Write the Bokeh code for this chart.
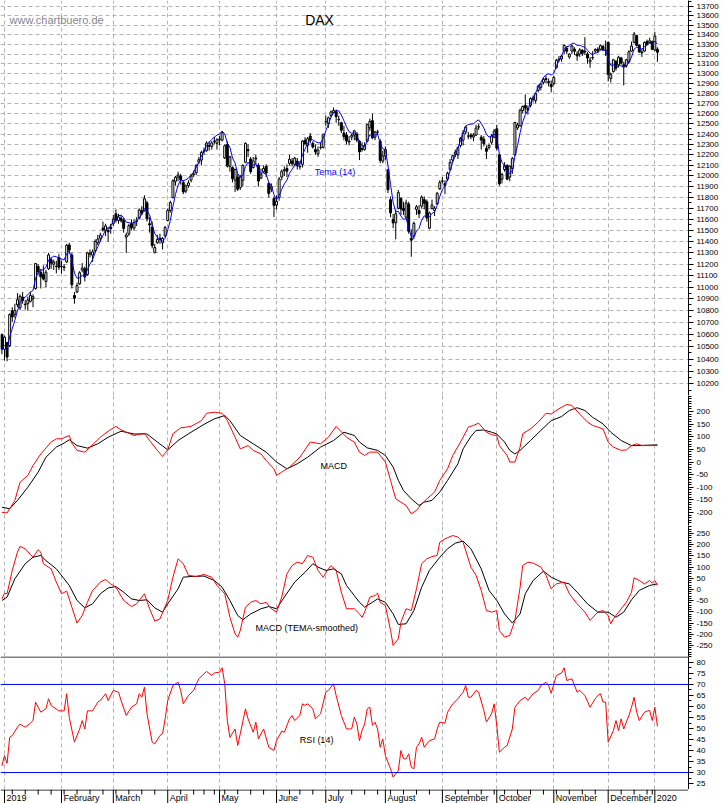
import numpy as np
import pandas as pd
from bokeh.plotting import figure
from bokeh.layouts import column
from bokeh.models import Range1d, FixedTicker, PrintfTickFormatter, Label, Span, ColumnDataSource
from bokeh.core.properties import value
from bokeh.embed import file_html
from bokeh.resources import INLINE

FONT = "Liberation Sans"

# ---------------- calendar ----------------
holidays = ["2018-12-31", "2019-01-01", "2019-04-19", "2019-04-22", "2019-05-01",
            "2019-06-10", "2019-10-03", "2019-12-24", "2019-12-25", "2019-12-26",
            "2019-12-31", "2020-01-01"]
trade_dates = pd.bdate_range("2018-12-28", "2020-01-03")
trade_dates = trade_dates[~trade_dates.isin(pd.to_datetime(holidays))]
day = list(range(-1, len(trade_dates) - 1))

month_names = ["2019", "February", "March", "April", "May", "June", "July",
               "August", "September", "October", "November", "December", "2020"]

# ---------------- DAX daily OHLC ----------------
opens = [
    10600, 10480, 10536, 10510, 10800, 10770, 10850, 10825, 10915, 10850,
    10860, 10880, 10900, 10990, 11180, 11130, 11110, 11050, 11160, 11240,
    11200, 11180, 11260, 11180, 11170, 11220, 11370, 11280, 10930, 10960,
    11030, 11150, 11160, 11110, 11290, 11280, 11320, 11390, 11430, 11520,
    11500, 11500, 11530, 11560, 11650, 11590, 11610, 11590, 11440, 11470,
    11560, 11520, 11580, 11610, 11680, 11680, 11750, 11560, 11530, 11300,
    11390, 11430, 11390, 11450, 11590, 11680, 11800, 11950, 11990, 12000,
    11940, 11860, 11910, 11960, 12010, 12030, 12130, 12150, 12230, 12240,
    12290, 12280, 12330, 12310, 12350, 12340, 12170, 12300, 12090, 12080,
    11960, 11990, 11890, 11960, 12130, 12250, 12160, 12080, 12160, 12100,
    11980, 12040, 12090, 11930, 11880, 11790, 11730, 11800, 11990, 12050,
    12070, 12120, 12140, 12110, 12140, 12090, 12110, 12340, 12290, 12380,
    12310, 12250, 12210, 12270, 12270, 12520, 12500, 12580, 12610, 12620,
    12540, 12510, 12410, 12390, 12330, 12370, 12390, 12400, 12330, 12250,
    12250, 12330, 12460, 12530, 12370, 12420, 12330, 12140, 12190, 12060,
    11780, 11600, 11570, 11700, 11790, 11700, 11620, 11740, 11430, 11450,
    11690, 11680, 11720, 11780, 11760, 11520, 11700, 11680, 11740, 11880,
    11950, 11930, 11970, 12060, 12150, 12200, 12200, 12290, 12340, 12420,
    12380, 12390, 12370, 12390, 12470, 12370, 12350, 12260, 12270, 12320,
    12370, 12450, 12200, 11970, 12060, 12100, 11990, 12070, 12200, 12460,
    12480, 12630, 12680, 12650, 12680, 12740, 12730, 12830, 12860, 12910,
    12950, 12920, 12890, 12900, 13060, 13140, 13150, 13230, 13260, 13170,
    13230, 13250, 13200, 13200, 13240, 13230, 13200, 13120, 13160, 13230,
    13250, 13250, 13280, 13240, 13320, 12950, 13020, 13120, 13090, 13160,
    13090, 13080, 13120, 13230, 13320, 13390, 13290, 13220, 13230, 13330,
    13320, 13330, 13240, 13250]
highs = [
    10610, 10593, 10540, 10779, 10830, 10860, 10950, 10940, 10960, 10890,
    10920, 10960, 10940, 11210, 11200, 11160, 11190, 11150, 11300, 11260,
    11240, 11230, 11290, 11230, 11200, 11380, 11390, 11300, 10960, 11040,
    11140, 11210, 11180, 11310, 11330, 11330, 11420, 11460, 11480, 11580,
    11560, 11530, 11560, 11640, 11690, 11650, 11640, 11610, 11480, 11560,
    11600, 11600, 11620, 11700, 11720, 11820, 11770, 11620, 11580, 11380,
    11460, 11470, 11440, 11540, 11700, 11770, 11970, 12000, 12040, 12020,
    11960, 11920, 11960, 12020, 12050, 12110, 12180, 12240, 12270, 12330,
    12330, 12330, 12370, 12360, 12380, 12430, 12300, 12330, 12190, 12090,
    12070, 12020, 12010, 12110, 12320, 12300, 12180, 12180, 12200, 12120,
    12070, 12100, 12110, 11940, 11930, 11810, 11820, 11990, 12060, 12090,
    12110, 12200, 12170, 12180, 12170, 12140, 12340, 12370, 12370, 12410,
    12330, 12300, 12280, 12320, 12400, 12580, 12570, 12630, 12660, 12640,
    12580, 12520, 12480, 12420, 12380, 12400, 12440, 12420, 12340, 12320,
    12320, 12500, 12550, 12600, 12430, 12440, 12350, 12240, 12280, 12060,
    11810, 11650, 11690, 11870, 11800, 11760, 11780, 11760, 11510, 11580,
    11730, 11730, 11820, 11810, 11780, 11670, 11780, 11720, 11850, 11960,
    11990, 11960, 12040, 12160, 12200, 12250, 12280, 12370, 12440, 12480,
    12420, 12410, 12410, 12490, 12500, 12390, 12380, 12290, 12310, 12400,
    12450, 12490, 12210, 12030, 12130, 12110, 12100, 12180, 12520, 12510,
    12650, 12680, 12790, 12680, 12760, 12780, 12810, 12890, 12900, 12960,
    12980, 12950, 12930, 12980, 13150, 13180, 13190, 13300, 13280, 13210,
    13300, 13270, 13230, 13260, 13250, 13375, 13220, 13170, 13230, 13260,
    13270, 13300, 13290, 13340, 13330, 13010, 13150, 13140, 13180, 13170,
    13120, 13150, 13240, 13330, 13430, 13400, 13300, 13250, 13330, 13350,
    13370, 13340, 13430, 13270]
lows = [
    10440, 10387, 10382, 10500, 10706, 10740, 10830, 10805, 10860, 10810,
    10800, 10870, 10830, 10980, 11110, 10990, 11060, 11000, 11150, 11160,
    11150, 11120, 11150, 11120, 11140, 11210, 11290, 10990, 10860, 10950,
    11020, 11130, 11050, 11100, 11260, 11220, 11300, 11370, 11400, 11490,
    11450, 11400, 11470, 11540, 11570, 11560, 11570, 11480, 11300, 11450,
    11500, 11500, 11540, 11600, 11640, 11670, 11580, 11480, 11340, 11300,
    11380, 11380, 11330, 11440, 11580, 11660, 11790, 11910, 11950, 11920,
    11830, 11840, 11890, 11940, 11990, 12010, 12110, 12100, 12200, 12230,
    12240, 12250, 12300, 12250, 12290, 12330, 12160, 12080, 12040, 11940,
    11850, 11860, 11870, 11900, 12120, 12180, 12020, 12070, 12110, 11900,
    11970, 12030, 11990, 11800, 11850, 11620, 11690, 11770, 11960, 12000,
    11990, 12100, 12090, 12090, 12060, 12060, 12080, 12290, 12220, 12310,
    12260, 12200, 12180, 12250, 12260, 12480, 12460, 12560, 12600, 12510,
    12480, 12410, 12340, 12300, 12290, 12340, 12340, 12320, 12150, 12230,
    12240, 12320, 12430, 12350, 12340, 12390, 12120, 12120, 12150, 11840,
    11620, 11520, 11420, 11690, 11640, 11640, 11600, 11470, 11266, 11420,
    11640, 11610, 11700, 11690, 11580, 11510, 11690, 11630, 11730, 11870,
    11930, 11830, 11950, 12050, 12130, 12180, 12160, 12270, 12290, 12400,
    12350, 12350, 12330, 12380, 12440, 12250, 12280, 12160, 12250, 12300,
    12360, 12240, 11910, 11930, 12040, 11960, 11950, 12020, 12190, 12440,
    12470, 12600, 12600, 12590, 12660, 12710, 12700, 12810, 12830, 12890,
    12900, 12870, 12810, 12880, 13050, 13120, 13120, 13200, 13200, 13150,
    13200, 13190, 13130, 13170, 13180, 13190, 13100, 13060, 13140, 13210,
    13210, 13240, 13230, 13180, 12920, 12910, 13010, 13030, 13060, 13090,
    12880, 13060, 13100, 13220, 13310, 13280, 13210, 13170, 13220, 13290,
    13310, 13240, 13230, 13120]
closes = [
    10480, 10580, 10417, 10768, 10748, 10804, 10893, 10922, 10887, 10856,
    10892, 10931, 10919, 11206, 11136, 11090, 11072, 11130, 11282, 11210,
    11219, 11182, 11173, 11181, 11177, 11368, 11325, 11022, 10907, 11015,
    11126, 11167, 11090, 11300, 11299, 11309, 11402, 11423, 11458, 11505,
    11541, 11487, 11516, 11602, 11593, 11621, 11588, 11518, 11458, 11543,
    11524, 11572, 11587, 11686, 11657, 11788, 11604, 11550, 11364, 11347,
    11419, 11419, 11428, 11526, 11682, 11754, 11954, 11988, 12010, 11963,
    11851, 11906, 11935, 12000, 12020, 12101, 12153, 12222, 12236, 12313,
    12282, 12315, 12328, 12344, 12345, 12413, 12287, 12093, 12180, 11974,
    12060, 11877, 11992, 12100, 12310, 12239, 12041, 12143, 12169, 11952,
    12011, 12071, 12027, 11838, 11902, 11727, 11764, 11971, 12044, 12059,
    12045, 12158, 12116, 12169, 12096, 12086, 12332, 12309, 12355, 12340,
    12275, 12228, 12245, 12271, 12399, 12521, 12558, 12616, 12630, 12569,
    12544, 12437, 12373, 12332, 12323, 12387, 12431, 12341, 12228, 12260,
    12289, 12491, 12523, 12362, 12420, 12417, 12147, 12189, 12253, 11872,
    11659, 11568, 11650, 11845, 11694, 11680, 11750, 11493, 11413, 11563,
    11715, 11651, 11803, 11747, 11612, 11658, 11730, 11701, 11839, 11939,
    11954, 11911, 12025, 12127, 12192, 12226, 12269, 12359, 12410, 12469,
    12380, 12373, 12390, 12458, 12468, 12342, 12307, 12234, 12289, 12381,
    12428, 12264, 11925, 12013, 12097, 11970, 12094, 12164, 12512, 12487,
    12630, 12670, 12655, 12634, 12748, 12755, 12798, 12872, 12895, 12942,
    12940, 12910, 12867, 12961, 13136, 13149, 13180, 13289, 13229, 13198,
    13284, 13230, 13180, 13242, 13207, 13221, 13158, 13138, 13164, 13246,
    13233, 13287, 13246, 13236, 12990, 12989, 13141, 13055, 13167, 13106,
    13071, 13141, 13222, 13283, 13408, 13288, 13222, 13212, 13319, 13301,
    13337, 13249, 13386, 13219]

# ---------------- MACD ----------------
macd_x = [-1, 1, 4, 6, 9, 11, 14, 18, 20, 22, 25, 26, 28, 31, 33, 37, 40, 43, 45, 50,
          54, 56, 59, 61, 63, 65, 68, 72, 76, 78, 81, 84, 86, 89, 91, 94, 96, 99, 101, 104,
          105, 107, 110, 114, 118, 122, 125, 128, 132, 135, 137, 139, 141, 144, 147, 149, 151, 153, 155, 157,
          159, 161, 163, 166, 168, 171, 173, 176, 179, 181, 183, 186, 188, 190, 191, 194, 195, 197, 199, 200,
          203, 206, 209, 211, 214, 217, 219, 222, 225, 227, 231, 233, 235, 238, 240, 242, 244, 246, 249, 252]
macd_line = [-199, -202, -152, -80, -53, -14, 32, 79, 92, 92, 105, 75, 46, 39, 59, 98, 122, 141, 127, 105,
             114, 85, 46, 22, 48, 112, 135, 141, 164, 193, 197, 193, 164, 98, 52, 65, 46, 32, 6, -27,
             -53, -40, -20, 19, 79, 72, 98, 141, 98, 79, 39, 26, 39, 39, 0, -73, -146, -159, -172, -205,
             -192, -166, -146, -119, -73, -27, 26, 79, 138, 145, 154, 118, 108, 105, 65, 26, 0, 0, 59, 112,
             131, 158, 193, 190, 211, 228, 224, 190, 158, 145, 131, 79, 59, 46, 48, 65, 72, 65, 65, 65]
signal_x = [-1, 2, 5, 9, 13, 16, 20, 23, 25, 28, 32, 36, 40, 45, 50, 55, 59, 63, 67, 72,
            77, 81, 85, 87, 91, 96, 101, 105, 109, 113, 117, 122, 127, 131, 135, 137, 140, 144, 147, 150,
            152, 154, 157, 160, 162, 165, 168, 171, 175, 177, 180, 182, 185, 188, 190, 193, 195, 197, 199, 203,
            207, 211, 215, 218, 221, 224, 227, 231, 234, 238, 242, 244, 252]
signal_line = [-179, -185, -152, -100, -40, 19, 59, 75, 88, 65, 55, 72, 98, 122, 111, 111, 79, 48, 85, 118,
               149, 171, 184, 164, 105, 72, 39, 0, -27, -7, 19, 59, 85, 118, 105, 79, 56, 46, 26, -20,
               -73, -113, -146, -172, -159, -152, -119, -73, -7, 52, 101, 125, 127, 118, 111, 79, 46, 32, 46, 85,
               125, 164, 180, 204, 215, 204, 177, 151, 118, 85, 65, 65, 68]

# ---------------- MACD (TEMA-smoothed) ----------------
tmacd_x = [-1, 0, 1, 3, 5, 6, 8, 10, 11, 13, 14, 15, 18, 20, 22, 24, 26, 28, 30, 32,
           34, 37, 39, 41, 43, 46, 49, 51, 54, 56, 58, 60, 63, 65, 67, 69, 71, 74, 77, 80,
           82, 85, 87, 89, 90, 91, 93, 95, 97, 99, 101, 103, 105, 107, 109, 111, 113, 115, 117, 119,
           121, 123, 125, 126, 128, 130, 132, 135, 137, 138, 139, 141, 143, 144, 145, 147, 149, 150, 152, 153,
           155, 157, 159, 161, 163, 165, 167, 168, 170, 173, 175, 177, 180, 182, 184, 186, 188, 190, 191, 193,
           195, 197, 199, 200, 202, 204, 207, 209, 211, 213, 216, 218, 221, 224, 226, 229, 231, 233, 234, 235,
           237, 240, 242, 243, 245, 247, 249, 250, 251, 252]
tmacd_line = [-42, -16, -19, 85, 167, 192, 182, 156, 144, 177, 167, 115, 92, 33, -19, -7, -79, -150, -116, -57,
              -4, 33, 45, 25, 10, -49, -76, -64, -19, -86, -141, -131, -49, 55, 137, 115, 63, 58, 67, 55,
              18, -19, -124, -198, -213, -183, -79, -57, -49, -64, -57, -86, -101, -34, 70, 107, 122, 115, 152, 144,
              85, 55, 92, 107, 85, -12, -86, -86, -109, -124, -101, -34, -27, -16, -57, -71, -183, -250, -220, -146,
              -86, -94, 3, 115, 137, 147, 152, 211, 226, 241, 234, 211, 100, 63, -4, -94, -101, -94, -183, -213,
              -205, -138, 10, 107, 122, 118, 100, 63, 3, 25, 33, -19, -64, -101, -138, -101, -94, -116, -153, -131,
              -101, -57, -12, 52, 40, 25, 40, 28, 40, 18]
tsignal_x = [-1, 1, 4, 8, 11, 14, 16, 20, 23, 25, 28, 31, 34, 37, 40, 43, 46, 49, 52, 55,
             58, 61, 63, 67, 69, 72, 77, 81, 84, 87, 90, 92, 95, 99, 102, 105, 108, 112, 116, 119,
             121, 124, 127, 130, 132, 135, 137, 139, 142, 144, 147, 150, 152, 155, 158, 161, 164, 168, 171, 174,
             177, 180, 184, 187, 190, 193, 196, 199, 201, 204, 208, 211, 215, 218, 221, 225, 229, 233, 236, 239,
             242, 245, 249, 252]
tsignal_line = [-49, -34, 48, 115, 144, 152, 129, 92, 48, 18, -49, -82, -64, -19, 7, 13, -12, -42, -49, -46,
                -82, -101, -64, 3, 55, 58, 60, 40, 10, -49, -116, -135, -109, -86, -76, -86, -34, 33, 77, 115,
                100, 85, 92, 70, 18, -27, -57, -79, -57, -42, -57, -109, -156, -153, -94, 10, 85, 144, 182, 207,
                216, 182, 92, -4, -49, -109, -150, -109, -19, 40, 82, 55, 33, 25, -12, -64, -101, -101, -124, -101,
                -46, -4, 18, 25]

# ---------------- RSI (14) ----------------
rsi_x = [-1, 0, 1, 2, 3, 5, 6, 8, 10, 11, 12, 14, 16, 17, 18, 21, 23, 24, 25, 27,
         29, 30, 31, 32, 34, 36, 37, 39, 40, 42, 44, 45, 47, 49, 51, 52, 53, 54, 55, 57,
         58, 60, 61, 62, 63, 65, 67, 68, 69, 71, 73, 75, 77, 78, 80, 81, 83, 84, 85, 86,
         87, 89, 90, 91, 93, 94, 96, 97, 98, 100, 102, 104, 105, 107, 108, 110, 111, 112, 114, 115,
         116, 117, 119, 120, 122, 124, 125, 127, 128, 130, 132, 134, 135, 136, 137,
         138, 139, 140, 141, 142, 143, 144, 145, 146, 147, 149, 150, 152, 153, 154, 155, 156, 157, 158, 159,
         160, 161, 162, 164, 166, 167, 168, 170, 171, 173, 175, 177, 178, 179, 180, 182, 183, 185, 186, 188,
         189, 190, 191, 193, 194, 196, 197, 199, 201, 202, 204, 206, 207, 209, 210, 211, 213, 215, 216, 217,
         219, 221, 222, 224, 226, 228, 229, 230, 231, 232, 233, 235, 236, 237, 238, 239, 241, 242, 243, 244,
         245, 247, 248, 249, 250, 251, 252]
rsi = [33, 37.7, 34.2, 46, 46.8, 50.6, 52, 50.6, 52.4, 53.6, 62, 57.4, 59, 63.5, 60.5, 58, 58, 65.8, 55, 43.8,
       49.8, 53.6, 49.8, 58, 58, 62, 62.7, 65.8, 62.7, 67.3, 66.5, 62.7, 55.9, 59.7, 61.2, 65.8, 64.2, 68.8, 56.7, 43.8,
       43, 46.8, 47.6, 54.4, 62.7, 69.5, 71, 67.3, 61.2, 65, 67.3, 72.6, 74.8, 75.9, 74.1, 75.2, 75.6, 77.6, 70.3, 53.6,
       46, 49.8, 42.3, 47.6, 58.9, 54.4, 48.3, 52.9, 45.3, 49.8, 41.5, 40, 44.5, 48.8, 48.3, 54.4, 55.9, 53.6, 55.9, 61.2,
       60.5, 61.2, 58.9, 54.4, 56.7, 66.5, 67.3, 70.3, 65, 55.9, 49.8, 49.8, 55.2, 52.1, 44.5,
       49.1, 52.1, 58.9, 59.7, 51.4, 52.9, 49.8, 41.5, 45.3, 37.7, 31.7, 27.9, 30.9, 40, 36.2, 36.2, 38.5, 32.4, 31.7, 41.5,
       43, 46, 41.5, 44.5, 45.3, 49.8, 52.9, 52.4, 57.4, 61.2, 63.5, 66.5, 69.5, 64.2, 64.2, 67.3, 66.5, 58.2, 52.9, 56.7,
       61.2, 51.4, 39.2, 41.5, 42.3, 49.8, 59.7, 62.7, 64.2, 62.7, 65.8, 67.3, 69.5, 71, 69.5, 66, 74.1, 75.2, 77.6, 71.8,
       72.6, 66.5, 67.3, 65, 59.7, 63.5, 65, 65.8, 62, 62, 43.8, 49.1, 53.6, 49.1, 54.4, 49.8, 55.9, 59.7, 64.2, 57.4,
       53.6, 57.4, 57.9, 58.2, 53.6, 59.7, 51]

# ---------------- derived ticks ----------------
month_start, week_start = [], []
for k in range(1, len(trade_dates)):
    d, prev = trade_dates[k], trade_dates[k - 1]
    if d.month != prev.month:
        month_start.append(day[k])
    elif d.isocalendar()[1] != prev.isocalendar()[1]:
        week_start.append(day[k])

# TEMA(14) of the closes
s = pd.Series(closes, dtype=float)
e1 = s.ewm(span=14, adjust=False).mean()
e2 = e1.ewm(span=14, adjust=False).mean()
e3 = e2.ewm(span=14, adjust=False).mean()
tema = (3 * e1 - 3 * e2 + e3).tolist()

# ---------------- layout geometry ----------------
FRAME_W = 688
PX_PER_DAY = 2.591
X_START = -4 / PX_PER_DAY
X_END = X_START + FRAME_W / PX_PER_DAY
xr = Range1d(X_START, X_END)

GRID_COLOR = "#b4b4b4"
GRID_DASH = "4 3"


def make_fig(h, yr, log=False):
    p = figure(frame_width=FRAME_W, frame_height=h, x_range=xr, y_range=yr,
               y_axis_type="log" if log else "linear", y_axis_location="right",
               x_axis_location=None, toolbar_location=None, output_backend="svg",
               min_border_left=0, min_border_right=0, min_border_top=0, min_border_bottom=0)
    p.outline_line_color = None
    p.background_fill_color = "white"
    p.border_fill_color = "white"
    p.xgrid.ticker = FixedTicker(ticks=month_start)
    p.xgrid.grid_line_color = GRID_COLOR
    p.xgrid.grid_line_dash = GRID_DASH
    p.ygrid.visible = False
    ax = p.yaxis[0]
    ax.axis_line_color = "black"
    ax.major_tick_out = 5
    ax.major_tick_in = 0
    ax.minor_tick_out = 3
    ax.minor_tick_in = 0
    ax.major_tick_line_color = "black"
    ax.minor_tick_line_color = "black"
    ax.major_label_text_font = FONT
    ax.major_label_text_font_size = "8px"
    ax.major_label_text_color = "black"
    ax.major_label_standoff = 3
    ax.formatter = PrintfTickFormatter(format="%d")
    return p


# ---- price panel ----
p1 = make_fig(395, Range1d(10108, 13764), log=True)
p1.yaxis[0].ticker = FixedTicker(ticks=list(range(10200, 13800, 100)),
                                 minor_ticks=list(range(10100, 13800, 50)))
p1.ygrid.visible = True
p1.ygrid.ticker = FixedTicker(ticks=list(range(10200, 13800, 100)))
p1.ygrid.grid_line_color = GRID_COLOR
p1.ygrid.grid_line_dash = GRID_DASH

src = ColumnDataSource(dict(
    x=day, hi=highs, lo=lows,
    top=[max(o, c) for o, c in zip(opens, closes)],
    bottom=[min(o, c) for o, c in zip(opens, closes)],
    fill=["white" if c >= o else "black" for o, c in zip(opens, closes)]))
p1.segment(x0="x", y0="lo", x1="x", y1="hi", source=src, line_color="black", line_width=1)
p1.vbar(x="x", width=0.75, top="top", bottom="bottom", source=src,
        fill_color="fill", line_color="black", line_width=1)
p1.line(day, tema, line_color="#0000ff", line_width=1)

p1.add_layout(Label(x=X_START + 9 / PX_PER_DAY, y=13561, text="www.chartbuero.de",
                    text_font=FONT, text_font_size="11px", text_color="#84848f",
                    text_baseline="middle", text_align="left"))
p1.add_layout(Label(x=121.6, y=13561, text="DAX", text_font=FONT, text_font_size="14px",
                    text_color="black", text_baseline="middle", text_align="center"))
p1.add_layout(Label(x=119.7, y=12033, text="Tema (14)", text_font=FONT, text_font_size="9px",
                    text_color="#0000ff", text_baseline="middle", text_align="left"))

# ---- MACD panel ----
p2 = make_fig(130, Range1d(-251.5, 263.4))
p2.yaxis[0].ticker = FixedTicker(ticks=list(range(-200, 201, 50)),
                                 minor_ticks=list(range(-250, 261, 10)))
p2.line(signal_x, signal_line, line_color="black", line_width=1)
p2.line(macd_x, macd_line, line_color="#ff0000", line_width=1)
p2.add_layout(Label(x=122, y=-17, text="MACD", text_font=FONT, text_font_size="9px",
                    text_color="black", text_baseline="middle", text_align="left"))

# ---- MACD (TEMA-smoothed) panel ----
p3 = make_fig(131, Range1d(-299.1, 285.7))
p3.yaxis[0].ticker = FixedTicker(ticks=list(range(-250, 251, 50)),
                                 minor_ticks=list(range(-290, 281, 10)))
p3.line(tsignal_x, tsignal_line, line_color="black", line_width=1)
p3.line(tmacd_x, tmacd_line, line_color="#ff0000", line_width=1)
p3.add_layout(Label(x=96.9, y=-173, text="MACD (TEMA-smoothed)", text_font=FONT,
                    text_font_size="9px", text_color="black", text_baseline="middle",
                    text_align="left"))

# ---- RSI panel ----
RSI_LO, RSI_HI = 22.3, 82.7
RSI_PX = (RSI_HI - RSI_LO) / 133
p4 = make_fig(133, Range1d(RSI_LO, RSI_HI))
p4.yaxis[0].ticker = FixedTicker(ticks=list(range(25, 81, 5)),
                                 minor_ticks=[v / 2 for v in range(45, 166, 5)])
p4.quad(left=[X_START], right=[X_END], bottom=[RSI_HI - RSI_PX], top=[RSI_HI],
        fill_color="black", line_color=None)
for lvl in (70, 30):
    p4.add_layout(Span(location=lvl, dimension="width", line_color="#0000ff", line_width=1))
p4.line(rsi_x, rsi, line_color="#ff0000", line_width=1)
p4.add_layout(Label(x=114, y=44.9, text="RSI (14)", text_font=FONT, text_font_size="9px",
                    text_color="black", text_baseline="middle", text_align="left"))

# ---- time axis strip (ticks + month names) ----
p5 = figure(frame_width=FRAME_W, frame_height=14, x_range=xr, y_range=Range1d(0, 14),
            x_axis_location=None, y_axis_location=None, toolbar_location=None,
            output_backend="svg", min_border_left=0, min_border_right=0,
            min_border_top=0, min_border_bottom=0)
p5.outline_line_color = None
p5.xgrid.visible = False
p5.ygrid.visible = False
p5.quad(left=[X_START], right=[X_END], bottom=[13], top=[14], fill_color="black", line_color=None)
p5.segment(x0=month_start, y0=[14] * len(month_start), x1=month_start, y1=[0] * len(month_start),
           line_color="black", line_width=1)
p5.segment(x0=week_start, y0=[14] * len(week_start), x1=week_start, y1=[9] * len(week_start),
           line_color="black", line_width=1)
p5.text(x=month_start, y=[6] * len(month_start), text=month_names, x_offset=2,
        text_font=value(FONT), text_font_size=value("9px"), text_color="black",
        text_baseline="middle", text_align="left")

layout = column(p1, p2, p3, p4, p5, spacing=0)
open("out.html", "w").write(file_html(layout, INLINE))
